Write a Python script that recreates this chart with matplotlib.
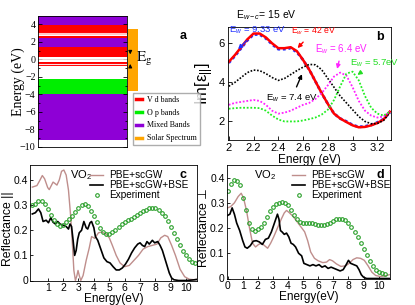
import matplotlib
matplotlib.use('Agg')
import matplotlib.pyplot as plt
from matplotlib.lines import Line2D
from matplotlib.patches import Rectangle

plt.rcParams['font.family'] = ['Liberation Sans', 'DejaVu Sans']
plt.rcParams['mathtext.fontset'] = 'custom'
plt.rcParams['mathtext.rm'] = 'Liberation Sans'
plt.rcParams['mathtext.it'] = 'Liberation Sans:italic'

# ---- panel a: band energies (eV)
mixed_bands = [(3.95, 5.0), (1.46, 2.42), (-9.2, -4.0)]
vd_bands = [(2.99, 3.95), (2.42, 2.72), (0.32, 1.46), (-0.8, -0.25)]
op_bands = [(-4.0, -2.23)]
solar_range = (-3.56, 3.48)
gap_top, gap_bottom = 0.25, -0.2

# ---- panel b: Im[eps_par] for several E_w
e_b = [2.00, 2.05, 2.10, 2.15, 2.20, 2.25, 2.30, 2.35, 2.40, 2.45, 2.50, 2.55, 2.60, 2.65,
       2.70, 2.75, 2.80, 2.85, 2.90, 2.95, 3.00, 3.05, 3.10, 3.15, 3.20, 3.25, 3.30]
eps_42 = [5.05, 5.4, 5.8, 6.2, 6.5, 6.5, 6.3, 6.0, 5.75, 5.75, 5.8, 5.6, 5.15, 4.65,
          4.05, 3.45, 2.9, 2.4, 2.15, 1.97, 1.8, 1.7, 1.72, 1.8, 1.92, 2.1, 2.5]
eps_933 = [5.0, 5.35, 5.75, 6.15, 6.45, 6.45, 6.25, 5.95, 5.7, 5.7, 5.75, 5.55, 5.15, 4.65,
           4.05, 3.45, 2.9, 2.4, 2.15, 2.0, 1.82, 1.72, 1.75, 1.82, 1.95, 2.12, 2.45]
eps_74 = [3.8, 4.0, 4.25, 4.5, 4.63, 4.6, 4.45, 4.25, 4.1, 4.2, 4.4, 4.6, 4.78, 4.92,
          4.9, 4.65, 4.2, 3.75, 3.3, 2.95, 2.6, 2.25, 2.0, 1.88, 1.9, 2.05, 2.45]
eps_64 = [2.85, 2.95, 3.0, 3.05, 3.1, 3.05, 2.85, 2.55, 2.4, 2.45, 2.55, 2.7, 2.85, 2.95,
          3.15, 3.45, 3.85, 4.3, 4.5, 4.35, 3.75, 3.05, 2.55, 2.3, 2.2, 2.25, 2.5]
eps_57 = [2.65, 2.68, 2.7, 2.7, 2.7, 2.68, 2.55, 2.3, 2.1, 2.0, 2.0, 2.0, 2.05, 2.12,
          2.2, 2.35, 2.6, 3.1, 3.8, 4.45, 4.55, 4.1, 3.3, 2.7, 2.4, 2.3, 2.5]

# ---- panel c: reflectance parallel
e_c_gw = [0, 0.3, 0.5, 0.65, 0.8, 1.0, 1.1, 1.35, 1.5, 1.6, 1.75, 1.9, 2.05, 2.2, 2.35, 2.5,
          2.6, 2.7, 2.8, 2.9, 2.97, 3.05, 3.15, 3.3, 3.5, 3.7, 3.85, 4.05, 4.3, 4.5, 4.8,
          5.0, 5.2, 5.45, 5.7, 6.0, 6.3, 6.6, 6.9, 7.2, 7.5, 7.8, 8.1, 8.35, 8.6, 8.8,
          9.05, 9.3, 9.6, 9.9, 10.2, 10.5, 10.7]
r_c_gw = [0.372, 0.378, 0.4, 0.418, 0.405, 0.37, 0.362, 0.392, 0.385, 0.38, 0.4, 0.435,
          0.44, 0.42, 0.36, 0.25, 0.15, 0.04, 0.0, 0.02, 0.04, 0.02, 0.0, 0.02, 0.08, 0.13,
          0.175, 0.168, 0.19, 0.193, 0.185, 0.17, 0.14, 0.1, 0.07, 0.055, 0.06, 0.08, 0.1,
          0.125, 0.135, 0.14, 0.145, 0.17, 0.18, 0.175, 0.14, 0.1, 0.045, 0.015, 0.005,
          0.003, 0.005]
e_c_bse = [0, 0.2, 0.4, 0.55, 0.7, 0.9, 1.05, 1.2, 1.35, 1.5, 1.65, 1.8, 2.0, 2.2, 2.35,
           2.45, 2.55, 2.65, 2.75, 2.85, 2.95, 3.05, 3.2, 3.35, 3.5, 3.6, 3.75, 3.85, 4.0,
           4.1, 4.25, 4.45, 4.65, 4.85, 5.05, 5.25, 5.45, 5.65, 5.85, 6.05, 6.25, 6.45,
           6.65, 6.85, 7.0, 7.15, 7.3, 7.45, 7.6, 7.8, 7.95, 8.15, 8.3, 8.45, 8.6, 8.75,
           8.9, 9.05, 9.2, 9.5, 10.0, 10.4, 10.7]
r_c_bse = [0.265, 0.27, 0.285, 0.27, 0.235, 0.24, 0.23, 0.25, 0.232, 0.225, 0.235, 0.225,
           0.22, 0.215, 0.205, 0.225, 0.215, 0.16, 0.1, 0.12, 0.165, 0.19, 0.2, 0.235, 0.21,
           0.205, 0.23, 0.235, 0.21, 0.175, 0.16, 0.125, 0.09, 0.075, 0.07, 0.055, 0.042,
           0.042, 0.05, 0.065, 0.085, 0.11, 0.13, 0.145, 0.15, 0.14, 0.135, 0.155, 0.145,
           0.16, 0.15, 0.155, 0.14, 0.12, 0.09, 0.06, 0.03, 0.01, 0.003, 0.0, 0.0, 0.002,
           0.004]
e_c_exp = [0.0, 0.2, 0.4, 0.6, 0.8, 1.0, 1.2, 1.4, 1.6, 1.8, 2.0, 2.2, 2.4, 2.6, 2.8, 3.0,
           3.2, 3.4, 3.6, 3.8, 4.0, 4.2, 4.4, 4.6, 4.8, 5.0, 5.2, 5.4, 5.6, 5.8, 6.0, 6.2,
           6.4, 6.6, 6.8, 7.0, 7.2, 7.4, 7.6, 7.8, 8.0, 8.2, 8.4, 8.6, 8.8, 9.0, 9.2, 9.4,
           9.6, 9.8, 10.0, 10.2, 10.4, 10.6]
r_c_exp = [0.300, 0.305, 0.315, 0.318, 0.305, 0.285, 0.262, 0.240, 0.225, 0.218, 0.222,
           0.232, 0.245, 0.258, 0.272, 0.287, 0.300, 0.305, 0.295, 0.275, 0.255, 0.232,
           0.210, 0.195, 0.187, 0.186, 0.192, 0.203, 0.215, 0.225, 0.233, 0.240, 0.246,
           0.253, 0.262, 0.270, 0.277, 0.282, 0.287, 0.289, 0.287, 0.280, 0.270, 0.255,
           0.238, 0.215, 0.190, 0.165, 0.140, 0.118, 0.100, 0.085, 0.075, 0.068]

# ---- panel d: reflectance perpendicular
e_d_gw = [0, 0.2, 0.45, 0.7, 0.9, 1.05, 1.25, 1.45, 1.65, 1.85, 2.05, 2.25, 2.45, 2.65,
          2.85, 3.05, 3.3, 3.55, 3.75, 3.9, 4.1, 4.35, 4.6, 4.85, 5.1, 5.3, 5.5, 5.75, 6.0,
          6.3, 6.55, 6.75, 6.95, 7.2, 7.5, 7.8, 8.05, 8.3, 8.55, 8.8, 9.05, 9.3, 9.55, 9.8,
          10.1, 10.4, 10.7]
r_d_gw = [0.28, 0.285, 0.3, 0.325, 0.338, 0.32, 0.27, 0.2, 0.14, 0.125, 0.135, 0.14, 0.13,
          0.12, 0.14, 0.165, 0.2, 0.235, 0.26, 0.27, 0.26, 0.245, 0.225, 0.205, 0.185, 0.15,
          0.105, 0.08, 0.07, 0.063, 0.065, 0.075, 0.07, 0.058, 0.048, 0.05, 0.06, 0.075,
          0.082, 0.08, 0.072, 0.05, 0.025, 0.012, 0.008, 0.01, 0.015]
e_d_bse = [0, 0.15, 0.3, 0.45, 0.6, 0.8, 1.0, 1.15, 1.3, 1.5, 1.7, 1.9, 2.1, 2.3, 2.5, 2.7,
           2.9, 3.1, 3.3, 3.4, 3.5, 3.6, 3.75, 3.9, 4.05, 4.2, 4.35, 4.5, 4.7, 4.9, 5.05,
           5.25, 5.45, 5.65, 5.85, 6.05, 6.25, 6.45, 6.65, 6.85, 7.05, 7.25, 7.45, 7.65,
           7.85, 8.0, 8.15, 8.35, 8.55, 8.7, 8.85, 9.0, 9.2, 9.5, 10.0, 10.4, 10.8]
r_d_bse = [0.25, 0.255, 0.28, 0.255, 0.22, 0.19, 0.15, 0.125, 0.12, 0.13, 0.148, 0.15,
           0.145, 0.135, 0.155, 0.16, 0.185, 0.22, 0.255, 0.235, 0.19, 0.185, 0.175, 0.18,
           0.165, 0.14, 0.135, 0.125, 0.1, 0.09, 0.06, 0.055, 0.05, 0.055, 0.05, 0.055,
           0.045, 0.05, 0.04, 0.045, 0.04, 0.035, 0.03, 0.035, 0.055, 0.072, 0.06, 0.055,
           0.05, 0.035, 0.015, 0.005, 0.0, 0.0, 0.0, 0.0, 0.0]
e_d_exp = [0.0, 0.2, 0.4, 0.6, 0.8, 1.0, 1.2, 1.4, 1.6, 1.8, 2.0, 2.2, 2.4, 2.6, 2.8, 3.0,
           3.2, 3.4, 3.6, 3.8, 4.0, 4.2, 4.4, 4.6, 4.8, 5.0, 5.2, 5.4, 5.6, 5.8, 6.0, 6.2,
           6.4, 6.6, 6.8, 7.0, 7.2, 7.4, 7.6, 7.8, 8.0, 8.2, 8.4, 8.6, 8.8, 9.0, 9.2, 9.4,
           9.6, 9.8, 10.0, 10.2, 10.4]
r_d_exp = [0.345, 0.375, 0.390, 0.385, 0.370, 0.320, 0.270, 0.222, 0.195, 0.190, 0.195,
           0.205, 0.222, 0.245, 0.268, 0.285, 0.295, 0.300, 0.302, 0.298, 0.290, 0.272,
           0.252, 0.235, 0.225, 0.222, 0.220, 0.220, 0.219, 0.217, 0.214, 0.212, 0.212,
           0.216, 0.222, 0.228, 0.234, 0.237, 0.237, 0.232, 0.222, 0.205, 0.185, 0.165,
           0.140, 0.118, 0.092, 0.068, 0.048, 0.035, 0.026, 0.020, 0.017]

RED, GREEN, PURPLE, ORANGE = '#ff0000', '#00ee00', '#8e00d6', '#ffa500'
BROWN, EXPG = '#bf8e8c', '#2ca02c'
W, H = 415, 305


def box(l, t, r, b):
    return [l / W, 1 - b / H, (r - l) / W, (b - t) / H]


fig = plt.figure(figsize=(W / 100, H / 100), dpi=100)

# ================= a
serif = 'Liberation Serif'
ax = fig.add_axes(box(37.7, 16, 126.7, 147))
for lo, hi in mixed_bands:
    ax.axhspan(lo, hi, color=PURPLE, lw=0)
for lo, hi in vd_bands:
    ax.axhspan(lo, hi, color=RED, lw=0)
for lo, hi in op_bands:
    ax.axhspan(lo, hi, color=GREEN, lw=0)
ax.axhline(2.85, color='#ffc8c8', lw=1.5)
ax.axhline(-0.5, color='#ffe0e0', lw=0.8)
ax.axhline(0.05, color='#e8d0d0', lw=0.6)
ax.set_xlim(0, 1)
ax.set_ylim(-10, 4.95)
ax.set_xticks([])
ax.set_yticks(range(-10, 5, 2))
ax.set_yticks(range(-10, 5), minor=True)
ax.tick_params(axis='y', which='both', direction='in', right=True, labelsize=7.2,
               length=3, width=0.6, pad=1.5)
ax.tick_params(axis='y', which='minor', length=1.5)
for lab in ax.get_yticklabels():
    lab.set_fontfamily(serif)
for s in ax.spines.values():
    s.set_linewidth(0.6)
ax.set_ylabel('Energy (eV)', fontfamily=serif, fontsize=10)
ax.yaxis.set_label_coords(-0.145, 0.5)

tr = ax.get_yaxis_transform()
ax.add_patch(Rectangle((1.018, solar_range[0]), 0.106, solar_range[1] - solar_range[0],
                       transform=tr, clip_on=False, color=ORANGE, lw=0))
ax.annotate('', xy=(1.04, gap_top), xytext=(1.04, 1.2), xycoords=tr, annotation_clip=False,
            arrowprops=dict(arrowstyle='-|>', color='k', lw=0.8, mutation_scale=5))
ax.annotate('', xy=(1.04, gap_bottom), xytext=(1.04, -1.2), xycoords=tr, annotation_clip=False,
            arrowprops=dict(arrowstyle='-|>', color='k', lw=0.8, mutation_scale=5))
ax.text(1.1, 0.0, r'$\mathrm{E_g}$', transform=tr, math_fontfamily='stix', fontsize=11,
        va='center', ha='left')

handles = [Line2D([], [], color=c, lw=2.5) for c in (RED, GREEN, PURPLE, ORANGE)]
labels = ['V d bands', 'O p bands', 'Mixed Bands', 'Solar Spectrum']
fig.legend(handles, labels, loc='upper left', bbox_to_anchor=(133 / W, 1 - 93 / H),
           prop={'family': serif, 'size': 5.8}, frameon=True, fancybox=False,
           edgecolor='0.6', handlelength=0.8, labelspacing=0.6, borderpad=0.35,
           handletextpad=0.6, borderaxespad=0)
fig.text(183 / W, 1 - 36 / H, 'a', fontweight='bold', fontsize=9, ha='center', va='center')

# ================= b
ax = fig.add_axes(box(227.5, 26.7, 391, 140))
dot = (0, (1, 1))
ax.plot(e_b, eps_933, color='#2030ff', ls=dot, lw=2.0)
ax.plot(e_b, eps_42, color=RED, lw=1.8)
ax.plot(e_b, eps_74, color='k', ls=dot, lw=1.2)
ax.plot(e_b, eps_64, color='#ff22ff', ls=dot, lw=1.3)
ax.plot(e_b, eps_57, color='#22ee22', ls=dot, lw=1.3)
ax.set_xlim(1.99, 3.31)
ax.set_ylim(1.05, 6.85)
ax.set_xticks([2, 2.2, 2.4, 2.6, 2.8, 3, 3.2])
ax.set_xticklabels(['2', '2.2', '2.4', '2.6', '2.8', '3', '3.2'])
ax.set_yticks([2, 4, 6])
ax.tick_params(direction='in', labelsize=8, length=3, width=0.6, pad=2)
for s in ax.spines.values():
    s.set_linewidth(0.6)
ax.set_xlabel('Energy (eV)', fontsize=8.5, labelpad=1)
ax.set_ylabel('Im[ε$_{||}$]', fontsize=12, labelpad=2)

arr = dict(arrowstyle='-|>', lw=1.0, mutation_scale=6)
ax.annotate('E$_w$ = 9.33 eV', xy=(2.06, 5.6), xytext=(2.0, 6.68), fontsize=6.8,
            color='#2030ff', arrowprops=dict(arr, color='#2030ff'), va='center')
ax.annotate('E$_w$ = 42 eV', xy=(2.54, 5.65), xytext=(2.5, 6.6), fontsize=6.2,
            color=RED, arrowprops=dict(arr, color=RED), va='center')
ax.annotate('E$_w$ = 6.4 eV', xy=(2.87, 4.55), xytext=(2.7, 5.72), fontsize=7,
            color='#ff22ff', arrowprops=dict(arr, color='#ff22ff'), va='center')
ax.annotate('E$_w$ = 5.7eV', xy=(3.02, 4.3), xytext=(2.98, 5.0), fontsize=6.8,
            color='#22dd22', arrowprops=dict(arr, color='#22dd22'), va='center')
ax.annotate('E$_w$ = 7.4 eV', xy=(2.6, 4.55), xytext=(2.3, 3.2), fontsize=6.8,
            color='k', arrowprops=dict(arr, color='k'), va='center')
fig.text(236 / W, 1 - 15 / H, 'E$_{w-c}$= 15 eV', fontsize=7.5, va='center')
fig.text(380 / W, 1 - 37 / H, 'b', fontweight='bold', fontsize=9, ha='center', va='center')


# ================= c, d
def refl(rect, e_gw, r_gw, e_bse, r_bse, e_exp, r_exp, xlim, ylim, ylabel, lab_x,
         leg_x, vo_x, tag, tag_x):
    ax = fig.add_axes(rect)
    ax.plot(e_gw, r_gw, color=BROWN, lw=1.0, label='PBE+scGW')
    ax.plot(e_bse, r_bse, color='k', lw=1.2, label='PBE+scGW+BSE')
    ax.plot(e_exp, r_exp, ls='none', marker='o', ms=2.6, mfc='none', mec=EXPG, mew=0.8,
            label='Experiment')
    ax.set_xlim(*xlim)
    ax.set_ylim(*ylim)
    ax.set_yticks([0, 0.1, 0.2, 0.3, 0.4])
    ax.set_yticklabels(['0', '0.1', '0.2', '0.3', '0.4'])
    ax.tick_params(direction='in', labelsize=7.5, length=2.5, width=0.6, pad=1.5)
    for s in ax.spines.values():
        s.set_linewidth(0.6)
    ax.set_xlabel('Energy(eV)', fontsize=8.5, labelpad=0)
    ax.set_ylabel(ylabel, fontsize=8.8)
    ax.yaxis.set_label_coords(lab_x, 0.45)
    ax.legend(loc='upper left', bbox_to_anchor=(leg_x, 1.0), frameon=False, fontsize=7.2,
              handlelength=1.3, handletextpad=0.6, labelspacing=0.0, borderaxespad=0.3,
              borderpad=0.2)
    ax.text(vo_x, 0.91, 'VO$_2$', transform=ax.transAxes, fontsize=8, va='center')
    fig.text(tag_x / W, 1 - 175 / H, tag, fontweight='bold', fontsize=9, ha='center',
             va='center')
    return ax


ax_c = refl(box(30, 165, 197, 280.5), e_c_gw, r_c_gw, e_c_bse, r_c_bse, e_c_exp, r_c_exp,
            (-0.15, 10.7), (0, 0.46), 'Reflectance ||', -0.095, 0.33, 0.24, 'c', 183)
ax_c.set_xticks(range(1, 11))
ax_d = refl(box(226.7, 165, 390, 278.5), e_d_gw, r_d_gw, e_d_bse, r_d_bse, e_d_exp, r_d_exp,
            (-0.06, 10.75), (0, 0.45), 'Reflectance ⊥', -0.1, 0.37, 0.17, 'd', 380)
ax_d.set_xticks(range(0, 11))

fig.savefig('out.png', dpi=100)
